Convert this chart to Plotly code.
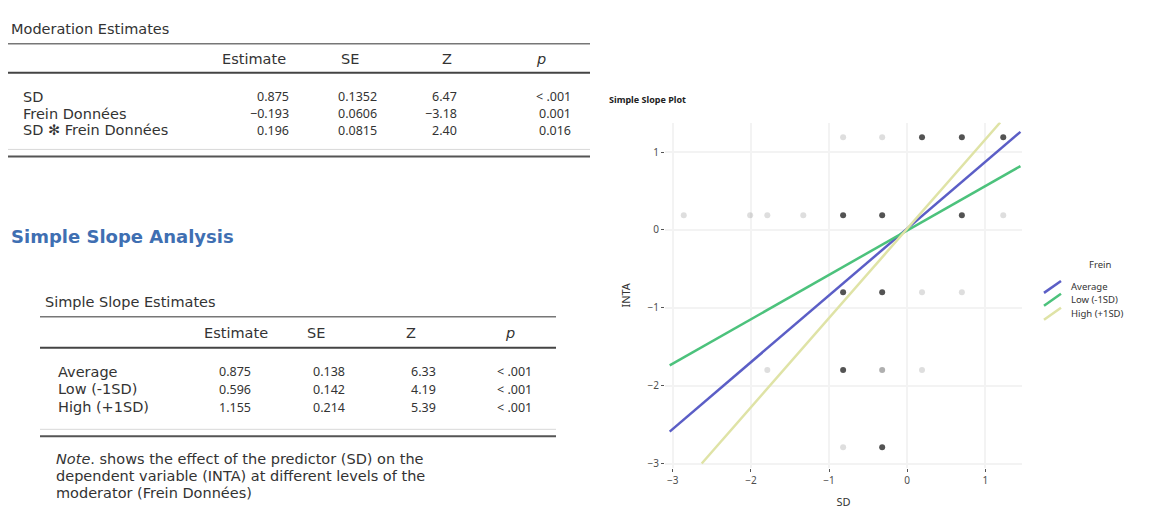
import plotly.graph_objects as go

W, H = 1168, 513

# ---------------- data ----------------
mod_title = "Moderation Estimates"
mod_cols = ["Estimate", "SE", "Z", "p"]
mod_terms = ["SD", "Frein Données", "SD ✻ Frein Données"]
mod_est = ["0.875", "−0.193", "0.196"]
mod_se = ["0.1352", "0.0606", "0.0815"]
mod_z = ["6.47", "−3.18", "2.40"]
mod_p = ["< .001", "0.001", "0.016"]

section_title = "Simple Slope Analysis"
ss_title = "Simple Slope Estimates"
ss_cols = ["Estimate", "SE", "Z", "p"]
ss_levels = ["Average", "Low (-1SD)", "High (+1SD)"]
ss_est = ["0.875", "0.596", "1.155"]
ss_se = ["0.138", "0.142", "0.214"]
ss_z = ["6.33", "4.19", "5.39"]
ss_p = ["< .001", "< .001", "< .001"]
ss_note = ["<i>Note</i>. shows the effect of the predictor (SD) on the",
           "dependent variable (INTA) at different levels of the",
           "moderator (Frein Données)"]

plot_title = "Simple Slope Plot"
x_title = "SD"
y_title = "INTA"
legend_title = "Frein"
x_ticks = [-3, -2, -1, 0, 1]
y_ticks = [-3, -2, -1, 0, 1]

# simple slope lines (start/end)
avg_x = [-3.04, 1.45]
avg_y = [-2.59, 1.26]
low_x = [-3.04, 1.45]
low_y = [-1.74, 0.82]
high_x = [-2.63, 1.19]
high_y = [-3.00, 1.38]

# observed points (n = overlap darkness)
pts_x = [-0.82, -0.32, 0.19, 0.70, 1.23,
         -2.86, -2.01, -1.79, -1.33, -0.82, -0.32, 0.70, 1.23,
         -0.82, -0.32, 0.19, 0.70,
         -1.79, -0.82, -0.32, 0.19,
         -0.82, -0.32]
pts_y = [1.19, 1.19, 1.19, 1.19, 1.19,
         0.19, 0.19, 0.19, 0.19, 0.19, 0.19, 0.19, 0.19,
         -0.80, -0.80, -0.80, -0.80,
         -1.80, -1.80, -1.80, -1.80,
         -2.79, -2.79]
pts_n = [1, 1, 4, 4, 4,
         1, 1, 1, 1, 4, 4, 4, 1,
         4, 4, 1, 1,
         1, 4, 2, 1,
         1, 4]

line_colors = ["#5b5ec6", "#4cc27c", "#dfe3a6"]

# ---------------- helpers ----------------
WORD_FONT = "DejaVu Sans"
NUM_FONT = "Noto Sans"

def px(x):
    return x / W

def py(y):
    return 1 - y / H

annotations = []
shapes = []

def text(x, y, s, anchor="left", size=12, color="#333333", bold=False, family=WORD_FONT):
    if bold:
        s = "<b>" + s + "</b>"
    annotations.append(dict(x=px(x), y=py(y), xref="paper", yref="paper", text=s,
                            showarrow=False, xanchor=anchor, yanchor="middle",
                            borderpad=0,
                            font=dict(size=size, color=color, family=family)))

def hline(x0, x1, y, color="#555555", width=1.5):
    shapes.append(dict(type="line", xref="paper", yref="paper", x0=px(x0), x1=px(x1),
                       y0=py(y), y1=py(y), line=dict(color=color, width=width)))

TS = 14.5   # table word size
NS = 12.5   # table number size

# ---------------- table 1 ----------------
text(10, 29, mod_title, size=TS)
hline(8, 590, 44, "#777777", 1.5)
hdr_x1 = [254, 350, 447, 541]
for c, xx in zip(mod_cols, hdr_x1):
    text(xx, 59, c if c != "p" else "<i>p</i>", "center", size=TS)
hline(8, 590, 73, "#444444", 2)
rows_y1 = [97, 114, 131]
val_right1 = [290, 378, 458, 572]
for i, yy in enumerate(rows_y1):
    text(22, yy, mod_terms[i], size=TS)
    for col, xr in zip([mod_est, mod_se, mod_z, mod_p], val_right1):
        text(xr, yy, col[i], "right", size=NS, family=NUM_FONT)
hline(8, 590, 150, "#d8d8d8", 1)
hline(8, 590, 157, "#555555", 2)

# ---------------- section + table 2 ----------------
text(10, 237, section_title, size=18, color="#3f6fb2", bold=True)
text(44, 303, ss_title, size=TS)
hline(40, 556, 318, "#777777", 1.5)
hdr_x2 = [236, 316, 411, 510]
for c, xx in zip(ss_cols, hdr_x2):
    text(xx, 334, c if c != "p" else "<i>p</i>", "center", size=TS)
hline(40, 556, 349, "#444444", 2)
rows_y2 = [373, 391, 409]
val_right2 = [252, 346, 437, 533]
for i, yy in enumerate(rows_y2):
    text(57, yy, ss_levels[i], size=TS)
    for col, xr in zip([ss_est, ss_se, ss_z, ss_p], val_right2):
        text(xr, yy, col[i], "right", size=NS, family=NUM_FONT)
hline(40, 556, 431, "#d8d8d8", 1)
hline(40, 556, 438, "#555555", 2)
for i, s in enumerate(ss_note):
    text(55, 461 + 17 * i, s, size=TS)

# ---------------- plot ----------------
fig = go.Figure()
fig.add_trace(go.Scatter(x=pts_x, y=pts_y, mode="markers", showlegend=False,
                         marker=dict(size=6, color="#222222",
                                     opacity=[min(0.8, 0.21 * n - 0.06) for n in pts_n]),
                         hoverinfo="skip"))
for name, xs, ys, col in zip(ss_levels, [avg_x, low_x, high_x], [avg_y, low_y, high_y], line_colors):
    fig.add_trace(go.Scatter(x=xs, y=ys, mode="lines", name=name, showlegend=False,
                             line=dict(color=col, width=2.5)))

text(608, 100, plot_title, size=9, bold=True, color="#222222", family="Noto Sans")

# custom legend with diagonal keys
text(1100, 266, legend_title, "center", size=9.5, family="Noto Sans")
leg_y = [288, 301, 315]
for name, col, yy in zip(ss_levels, line_colors, leg_y):
    shapes.append(dict(type="line", xref="paper", yref="paper",
                       x0=px(1044), x1=px(1061), y0=py(yy + 6), y1=py(yy - 6),
                       line=dict(color=col, width=2.5)))
    text(1070, yy, name, size=9.5, family="Noto Sans")

axis_common = dict(showgrid=True, gridcolor="#f3f3f3", gridwidth=2, zeroline=False,
                   showline=False, ticks="outside", ticklen=3, tickcolor="#555555",
                   tickfont=dict(size=10, color="#4d4d4d", family="Noto Sans"))

fig.update_layout(
    width=W, height=H,
    margin=dict(l=0, r=0, t=0, b=0),
    paper_bgcolor="white", plot_bgcolor="white",
    showlegend=False,
    annotations=annotations, shapes=shapes,
    xaxis=dict(domain=[px(665), px(1022)], range=[-3.1, 1.47],
               tickvals=x_ticks, ticktext=[str(t) if t >= 0 else "−" + str(-t) for t in x_ticks],
               title=dict(text=x_title, font=dict(size=11, color="#333333", family="Noto Sans"), standoff=12),
               **axis_common),
    yaxis=dict(domain=[py(470), py(123)], range=[-3.06, 1.38],
               tickvals=y_ticks, ticktext=[str(t) if t >= 0 else "−" + str(-t) for t in y_ticks],
               title=dict(text=y_title, font=dict(size=11, color="#333333", family="Noto Sans"), standoff=14),
               **axis_common),
)

fig.write_html("out.html", config={"displayModeBar": False},
               post_script="document.body.style.margin='0px';")
